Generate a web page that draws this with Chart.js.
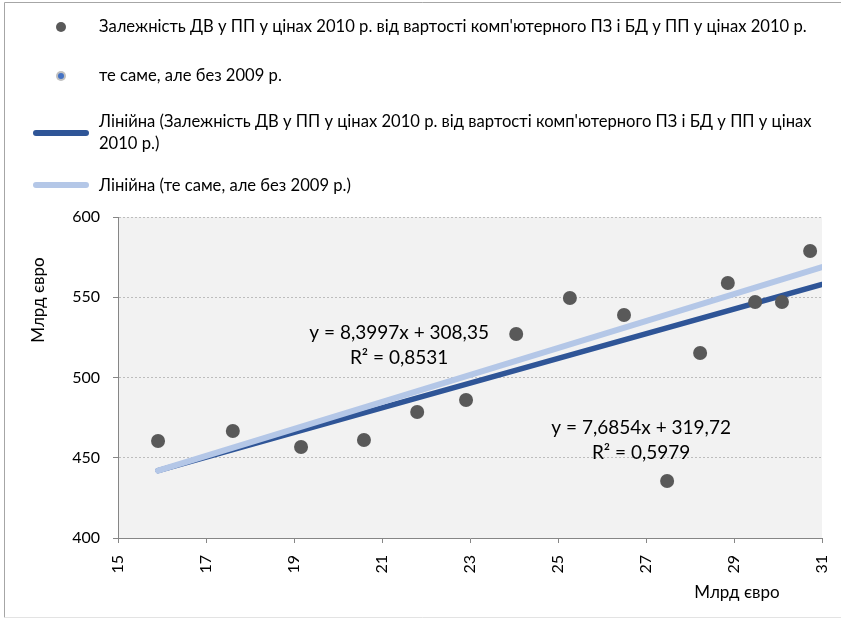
<!DOCTYPE html>
<html>
<head>
<meta charset="utf-8">
<title>ДВ у ПП і вартість комп'ютерного ПЗ і БД</title>
<script src="https://cdn.jsdelivr.net/npm/chart.js@4.4.1/dist/chart.umd.min.js"></script>
<style>
  html, body { margin: 0; padding: 0; background: #fff; }
  #wrap { position: relative; width: 841px; height: 618px; }
</style>
</head>
<body>
<div id="wrap"><canvas id="chart" width="841" height="618"></canvas></div>
<script>
// Вартість комп'ютерного ПЗ і БД у ПП, млрд євро (ціни 2010 р.)
const softwareValue = [15.91, 17.61, 19.16, 20.59, 21.80, 22.91, 24.05, 25.27, 26.50, 27.48, 28.23, 28.86, 29.48, 30.09, 30.73];
// ДВ у ПП, млрд євро (ціни 2010 р.)
const addedValue    = [460.4, 466.7, 456.7, 461.1, 478.5, 486.0, 527.1, 549.5, 538.9, 435.5, 515.3, 558.9, 547.0, 547.0, 578.8];

// Те саме без 2009 р.
const softwareValueNo2009 = [15.91, 17.61, 19.16, 20.59, 21.80, 22.91, 24.05, 25.27, 26.50, 28.23, 28.86, 29.48, 30.09, 30.73];
const addedValueNo2009    = [460.4, 466.7, 456.7, 461.1, 478.5, 486.0, 527.1, 549.5, 538.9, 515.3, 558.9, 547.0, 547.0, 578.8];

// Лінійні тренди: [усі роки, без 2009 р.]
const trendSlopes     = [7.6854, 8.3997];
const trendIntercepts = [319.72, 308.35];
const trendEquations  = ['y = 7,6854x + 319,72', 'y = 8,3997x + 308,35'];
const trendR2         = ['R² = 0,5979', 'R² = 0,8531'];

// Осі
const xTicks = [15, 17, 19, 21, 23, 25, 27, 29, 31];
const yTicks = [400, 450, 500, 550, 600];
const axisTitle = 'Млрд євро';

// Підписи легенди (рядки)
const legendLabels = [
  ["Залежність ДВ у ПП у цінах 2010 р. від вартості комп'ютерного ПЗ і БД у ПП у цінах 2010 р."],
  ['те саме, але без 2009 р.'],
  ["Лінійна (Залежність ДВ у ПП у цінах 2010 р. від вартості комп'ютерного ПЗ і БД у ПП у цінах", '2010 р.)'],
  ['Лінійна (те саме, але без 2009 р.)']
];

const FONT = 'Lato, "Liberation Sans", sans-serif';
const TEXT = '#000000';
const DARK_LINE = '#2F5597';
const LIGHT_LINE = '#B4C7E7';
const POINT = '#595959';

const toPoints = (xs, ys) => xs.map((x, i) => ({ x: x, y: ys[i] }));
const xMin = xTicks[0], xMax = xTicks[xTicks.length - 1];
const trendStart = Math.min(...softwareValue);
const trendLine = k => [trendStart, xMax].map(x => ({ x: x, y: trendSlopes[k] * x + trendIntercepts[k] }));

// Where each equation block sits, in axis units
const equationAnchors = [{ x: 26.89, y: 468.5 }, { x: 21.39, y: 527.7 }];

const decor = {
  id: 'decor',
  beforeDraw(chart) {
    const { ctx, chartArea: a } = chart;
    ctx.save();
    ctx.fillStyle = '#F2F2F2';
    ctx.fillRect(a.left, a.top, a.right - a.left, a.bottom - a.top);
    ctx.restore();
  },
  afterDraw(chart) {
    const { ctx, chartArea: a, scales } = chart;
    ctx.save();

    // outer frame
    ctx.strokeStyle = '#A6A6A6';
    ctx.lineWidth = 1;
    ctx.beginPath();
    ctx.moveTo(4.5, 617.5); ctx.lineTo(4.5, 2.5); ctx.lineTo(841, 2.5);
    ctx.stroke();
    ctx.strokeStyle = '#E3E3E3';
    ctx.beginPath(); ctx.moveTo(4.5, 617.5); ctx.lineTo(841, 617.5); ctx.stroke();

    // legend
    const textX = 99;
    const rows = [27, 76, 122, 186];
    const lineGap = 22;
    ctx.fillStyle = TEXT;
    ctx.font = '16.6px ' + FONT;
    ctx.textBaseline = 'middle';
    ctx.textAlign = 'left';
    legendLabels.forEach((lines, i) => {
      lines.forEach((t, j) => ctx.fillText(t, textX, rows[i] + j * lineGap));
    });
    // markers
    ctx.fillStyle = POINT;
    ctx.beginPath(); ctx.arc(61, rows[0], 5, 0, Math.PI * 2); ctx.fill();
    ctx.fillStyle = '#C0C0C0';
    ctx.beginPath(); ctx.arc(61, rows[1], 5, 0, Math.PI * 2); ctx.fill();
    ctx.fillStyle = '#4472C4';
    ctx.beginPath(); ctx.arc(61, rows[1], 3, 0, Math.PI * 2); ctx.fill();
    ctx.lineCap = 'round';
    ctx.lineWidth = 6;
    ctx.strokeStyle = DARK_LINE;
    ctx.beginPath(); ctx.moveTo(36, 133); ctx.lineTo(86, 133); ctx.stroke();
    ctx.strokeStyle = LIGHT_LINE;
    ctx.beginPath(); ctx.moveTo(36, 185); ctx.lineTo(86, 185); ctx.stroke();

    // axis titles
    ctx.fillStyle = TEXT;
    ctx.font = '17px ' + FONT;
    ctx.textAlign = 'center';
    ctx.fillText(axisTitle, a.right - 85, 593);
    ctx.save();
    ctx.translate(39, 300);
    ctx.rotate(-Math.PI / 2);
    ctx.fillText(axisTitle, 0, 0);
    ctx.restore();

    // trend equations
    ctx.font = '19px ' + FONT;
    equationAnchors.forEach((p, k) => {
      const px = scales.x.getPixelForValue(p.x);
      const py = scales.y.getPixelForValue(p.y);
      ctx.fillText(trendEquations[k], px, py);
      ctx.fillText(trendR2[k], px, py + 25);
    });
    ctx.restore();
  }
};

new Chart(document.getElementById('chart'), {
  type: 'scatter',
  data: {
    datasets: [
      {
        label: legendLabels[0].join(' '),
        data: toPoints(softwareValue, addedValue),
        pointRadius: 7, pointHoverRadius: 7,
        backgroundColor: POINT, borderWidth: 0,
        order: 0
      },
      {
        label: legendLabels[1].join(' '),
        data: toPoints(softwareValueNo2009, addedValueNo2009),
        pointRadius: 4, pointHoverRadius: 4,
        backgroundColor: '#4472C4', borderColor: '#C0C0C0', borderWidth: 2,
        order: 1
      },
      {
        label: legendLabels[3].join(' '),
        type: 'line',
        data: trendLine(1),
        borderColor: LIGHT_LINE, borderWidth: 6, borderCapStyle: 'round',
        pointRadius: 0, fill: false, clip: 0,
        order: 2
      },
      {
        label: legendLabels[2].join(' '),
        type: 'line',
        data: trendLine(0),
        borderColor: DARK_LINE, borderWidth: 5.5, borderCapStyle: 'round',
        pointRadius: 0, fill: false, clip: 0,
        order: 3
      }
    ]
  },
  options: {
    responsive: false,
    animation: false,
    events: [],
    layout: { padding: { left: 0, top: 217, right: 19, bottom: 0 } },
    plugins: { legend: { display: false }, tooltip: { enabled: false }, title: { display: false } },
    scales: {
      x: {
        type: 'linear', min: xMin, max: xMax,
        afterBuildTicks: s => { s.ticks = xTicks.map(v => ({ value: v })); },
        ticks: { maxRotation: 90, minRotation: 90, padding: 12, color: TEXT, font: { family: FONT, size: 16 } },
        grid: { drawOnChartArea: false, drawTicks: true, tickLength: 5, tickColor: '#868686' },
        border: { color: '#868686', width: 1 },
        afterFit: s => { s.height = 80; s.paddingLeft = 0; s.paddingRight = 0; }
      },
      y: {
        type: 'linear', min: yTicks[0], max: yTicks[yTicks.length - 1],
        afterBuildTicks: s => { s.ticks = yTicks.map(v => ({ value: v })); },
        ticks: { padding: 13, color: TEXT, font: { family: FONT, size: 16 } },
        grid: { color: '#BDBDBD', lineWidth: 1, tickColor: '#868686', tickLength: 5, tickBorderDash: [] },
        border: { color: '#868686', width: 1, dash: [2, 2] },
        afterFit: s => { s.width = 118; s.paddingTop = 0; s.paddingBottom = 0; }
      }
    }
  },
  plugins: [decor]
});
</script>
</body>
</html>
